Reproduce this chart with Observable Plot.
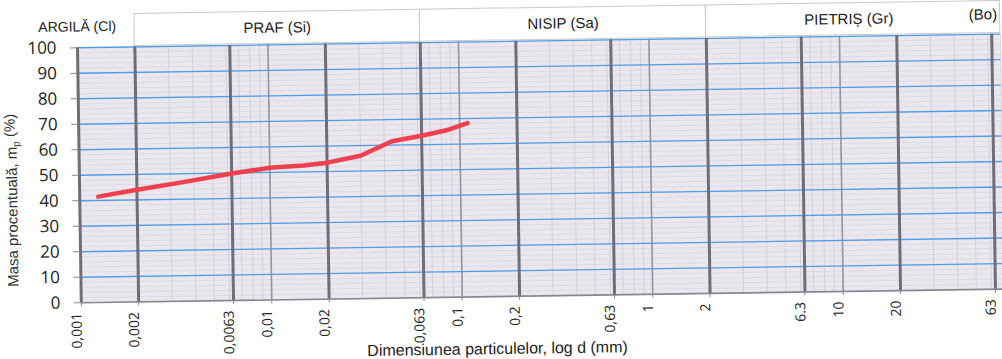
<!DOCTYPE html>
<html>
<head>
<meta charset="utf-8">
<script src="https://cdn.jsdelivr.net/npm/d3@7"></script>
<script src="https://cdn.jsdelivr.net/npm/@observablehq/plot@0.6"></script>
<style>
  html, body { margin: 0; padding: 0; background: #ffffff; overflow: hidden; }
  #chart { width: 1002px; height: 359px; transform: rotate(-0.85deg); transform-origin: 501px 179.5px; }
  #chart svg { display: block; overflow: visible; }
</style>
</head>
<body>
<div id="chart"></div>
<script>
// ---- data ----
const sizes   = [0.00125, 0.002, 0.0035, 0.0063, 0.01, 0.015, 0.02, 0.03, 0.044, 0.063, 0.085, 0.11];
const passing = [41.5, 44, 46.7, 49.8, 51.8, 52.5, 53.5, 56, 61.5, 63.5, 65.5, 68.2];

const tickValues = [0.001, 0.002, 0.0063, 0.01, 0.02, 0.063, 0.1, 0.2, 0.63, 1, 2, 6.3, 10, 20, 63];
const tickLabels = ["0,001", "0,002", "0,0063", "0,01", "0,02", "0,063", "0,1", "0,2", "0,63", "1", "2", "6.3", "10", "20", "63"];
const majorLines = [0.001, 0.002, 0.0063, 0.02, 0.063, 0.2, 0.63, 2, 6.3, 20, 63];
const decadeLines = [0.01, 0.1, 1, 10];
const yTicks = [0, 10, 20, 30, 40, 50, 60, 70, 80, 90, 100];

const classNames = ["ARGILĂ (Cl)", "PRAF (Si)", "NISIP (Sa)", "PIETRIȘ (Gr)", "(Bo)"];
const classLower = [0.001, 0.002, 0.063, 2, 63];
const classUpper = [0.002, 0.063, 2, 63, 70];

const xDomain = [0.001, 70];
const W = 1002, ML = 79, MR = 0;
const narrow = "'Liberation Sans Narrow', 'Arial Narrow', 'Liberation Sans', sans-serif";
const numFont = "'Open Sans', 'DejaVu Sans', sans-serif";

const data = sizes.map((d, i) => ({size: d, pass: passing[i]}));
const ticks = tickValues.map((d, i) => ({v: d, label: tickLabels[i]}));
const cells = classNames.slice(1, 4).map((n, i) => ({name: n, x1: classLower[i + 1], x2: i === 2 ? classUpper[4] : classUpper[i + 1]}));
const minorX = d3.scaleLog().domain(xDomain).ticks();
const minorY = d3.range(0, 101, 2);

// ---- header band ----
const header = Plot.plot({
  width: W, height: 40,
  marginLeft: ML, marginRight: MR, marginTop: 8, marginBottom: 0,
  x: {type: "log", domain: xDomain, axis: null},
  y: {domain: [0, 1], axis: null},
  style: {fontFamily: narrow, fontSize: "15px", color: "#222", background: "transparent"},
  marks: [
    Plot.rect(cells, {x1: "x1", x2: "x2", y1: 0, y2: 1, fill: "white", stroke: "#c9c9cc", strokeWidth: 1}),
    Plot.text(cells.slice(0, 2), {x: d => Math.sqrt(d.x1 * d.x2), y: 0.5, text: "name", fontSize: 15, fill: "#222"}),
    Plot.text([classNames[3]], {x: Math.sqrt(classLower[3] * classUpper[3]), y: 0.5, text: d => d, fontSize: 15, fill: "#222"}),
    Plot.text([classNames[0]], {x: classLower[0], y: 0.62, text: d => d, fontSize: 14, fill: "#222"}),
    Plot.text([classNames[4]], {x: classUpper[4], y: 0.58, text: d => d, textAnchor: "end", dx: -3, fontSize: 15, fill: "#222"})
  ]
});

// ---- main chart ----
const main = Plot.plot({
  width: W, height: 319,
  marginLeft: ML, marginRight: MR, marginTop: 1, marginBottom: 63,
  x: {type: "log", domain: xDomain},
  y: {domain: [0, 100]},
  style: {fontFamily: numFont, color: "#222", background: "transparent"},
  marks: [
    Plot.frame({fill: "#ebe7ef", stroke: null}),
    Plot.ruleY(minorY, {stroke: "#d6d2dc", strokeWidth: 0.6}),
    Plot.ruleX(minorX, {stroke: "#d0cbd6", strokeWidth: 0.8}),
    Plot.ruleX(decadeLines, {stroke: "#98939f", strokeWidth: 1.6}),
    Plot.ruleY(yTicks.filter(d => d > 0), {stroke: "#4f9de6", strokeWidth: 1.4}),
    Plot.ruleY([0], {stroke: "#8b8791", strokeWidth: 1.6}),
    Plot.ruleX(majorLines, {stroke: "#716c77", strokeWidth: 3}),
    Plot.axisY({ticks: yTicks, tickSize: 7, tickPadding: 14, fontSize: 17, stroke: "#8b8791", label: null}),
    Plot.axisX({ticks: tickValues, tickFormat: () => "", tickSize: 4, stroke: "#8b8791", label: null}),
    Plot.text(ticks, {x: "v", text: "label", frameAnchor: "bottom", dy: 10, rotate: -90, textAnchor: "end", fontSize: 14, fill: "#222"}),
    Plot.line(data, {x: "size", y: "pass", stroke: "#f0404e", strokeWidth: 4.5, strokeLinecap: "round", strokeLinejoin: "round"})
  ]
});

// axis titles
const svg = d3.select(main);
const yl = svg.append("text")
  .attr("transform", "translate(17,153) rotate(-90)")
  .attr("text-anchor", "middle")
  .attr("font-family", narrow)
  .attr("font-size", 15)
  .attr("fill", "#333");
yl.append("tspan").text("Masa procentuală, m");
yl.append("tspan").attr("dy", "0.3em").attr("font-size", 10).text("p");
yl.append("tspan").attr("dy", "-0.3em").text(" (%)");
svg.append("text")
  .attr("x", 495).attr("y", 314)
  .attr("text-anchor", "middle")
  .attr("font-family", narrow)
  .attr("font-size", 16)
  .attr("fill", "#222")
  .text("Dimensiunea particulelor, log d (mm)");

const el = document.getElementById("chart");
el.append(header, main);
</script>
</body>
</html>
